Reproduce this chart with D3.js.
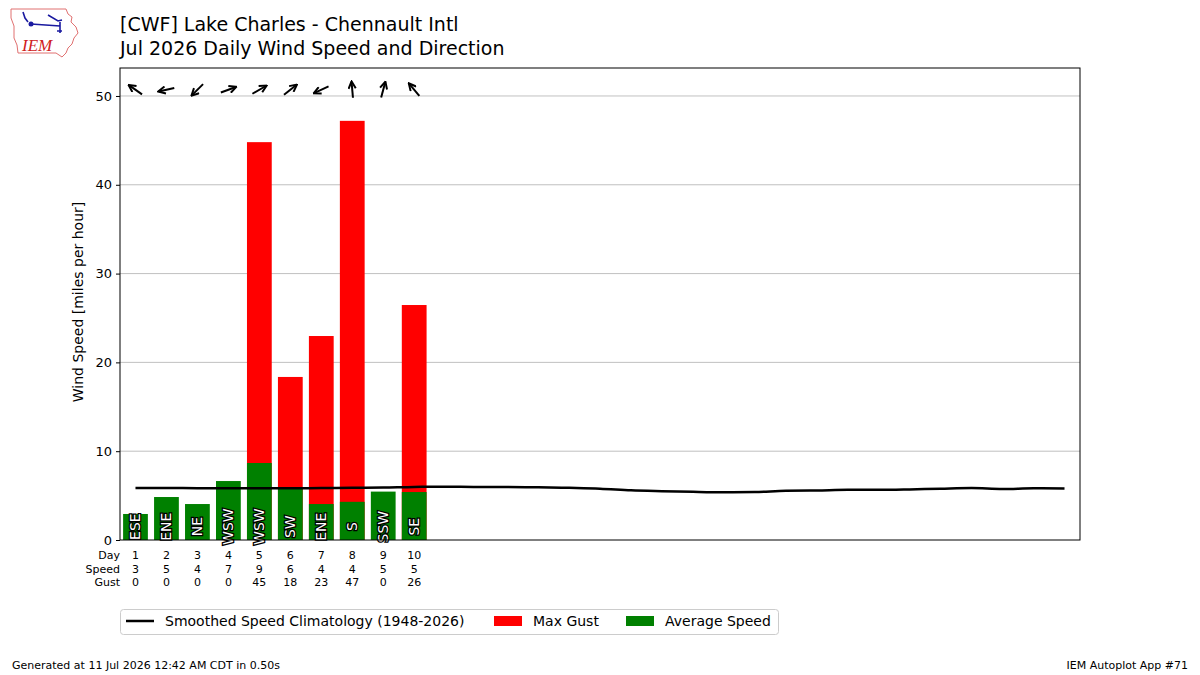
<!DOCTYPE html>
<html>
<head>
<meta charset="utf-8">
<script src="https://cdn.jsdelivr.net/npm/d3@7"></script>
<style>
  body { margin: 0; background: #fff; }
  svg text { font-family: "DejaVu Sans", sans-serif; }
</style>
</head>
<body>
<div class="canvas"></div>
<script>
// data
const days = [1, 2, 3, 4, 5, 6, 7, 8, 9, 10];
const avgSpeed = [2.93, 4.84, 4.05, 6.64, 8.67, 5.97, 4.05, 4.3, 5.45, 5.4];
const maxGust = [0, 0, 0, 0, 44.8, 18.36, 22.97, 47.2, 0, 26.46];
const dirLabels = ['ESE', 'ENE', 'NE', 'WSW', 'WSW', 'SW', 'ENE', 'S', 'SSW', 'SE'];
const dirDegrees = [125, 78, 45, 250, 240, 232, 65, 175, 195, 140];
const climoDays = d3.range(1, 32);
const climoSpeed = [5.85, 5.85, 5.84, 5.83, 5.84, 5.83, 5.85, 5.87, 5.9, 5.98, 6.0, 5.97, 5.98, 5.94, 5.87,
  5.78, 5.6, 5.5, 5.42, 5.37, 5.4, 5.55, 5.58, 5.65, 5.65, 5.7, 5.78, 5.85, 5.75, 5.82, 5.8];
const yTicks = [0, 10, 20, 30, 40, 50];

const dims = {width: 1200, height: 675};
const plot = {left: 120, right: 1080, top: 68, bottom: 540};

const svg = d3.select('.canvas')
  .append('svg')
  .attr('width', dims.width)
  .attr('height', dims.height);

const x = d3.scaleLinear().domain([0.5, 31.5]).range([plot.left, plot.right]);
const y = d3.scaleLinear().domain([0, 53.15]).range([plot.bottom, plot.top]);
const barW = x(1.4) - x(0.6);

// gridlines
svg.append('g')
  .selectAll('line')
  .data(yTicks.filter(d => d > 0))
  .enter().append('line')
  .attr('x1', plot.left).attr('x2', plot.right)
  .attr('y1', d => y(d)).attr('y2', d => y(d))
  .attr('stroke', '#b0b0b0').attr('stroke-width', 0.8);

// gust bars then average bars on top
svg.append('g')
  .selectAll('rect')
  .data(days)
  .enter().append('rect')
  .attr('x', (d) => x(d) - barW / 2)
  .attr('width', barW)
  .attr('y', (d, i) => y(maxGust[i]))
  .attr('height', (d, i) => y(0) - y(maxGust[i]))
  .attr('fill', 'red');

svg.append('g')
  .selectAll('rect')
  .data(days)
  .enter().append('rect')
  .attr('x', (d) => x(d) - barW / 2)
  .attr('width', barW)
  .attr('y', (d, i) => y(avgSpeed[i]))
  .attr('height', (d, i) => y(0) - y(avgSpeed[i]))
  .attr('fill', 'green');

// climatology line
const line = d3.line()
  .x((d, i) => x(climoDays[i]))
  .y(d => y(d))
  .curve(d3.curveMonotoneX);

svg.append('path')
  .datum(climoSpeed)
  .attr('d', line)
  .attr('fill', 'none')
  .attr('stroke', 'black')
  .attr('stroke-width', 2.5);

// direction labels inside bars
svg.append('g')
  .selectAll('text')
  .data(days)
  .enter().append('text')
  .attr('transform', d => `translate(${x(d) + 5},${y(1.5)}) rotate(-90)`)
  .attr('text-anchor', 'middle')
  .attr('font-size', 14)
  .attr('fill', 'white')
  .attr('stroke', 'black')
  .attr('stroke-width', 2.5)
  .attr('paint-order', 'stroke')
  .text((d, i) => dirLabels[i]);

// wind direction arrows (pointing where the wind blows to)
svg.append('defs').append('marker')
  .attr('id', 'head')
  .attr('viewBox', '0 0 10 10')
  .attr('refX', 8.5).attr('refY', 5)
  .attr('markerWidth', 9).attr('markerHeight', 9)
  .attr('markerUnits', 'userSpaceOnUse')
  .attr('orient', 'auto')
  .append('path')
  .attr('d', 'M1,1 L9,5 L1,9')
  .attr('fill', 'none')
  .attr('stroke', 'black')
  .attr('stroke-width', 2.2);

svg.append('g')
  .selectAll('line')
  .data(days)
  .enter().append('line')
  .each(function(d, i) {
    const toAng = (dirDegrees[i] + 180) * Math.PI / 180;
    const dx = Math.sin(toAng) * 8, dy = -Math.cos(toAng) * 8;
    const cx = x(d), cy = y(50.7);
    d3.select(this)
      .attr('x1', cx - dx).attr('y1', cy - dy)
      .attr('x2', cx + dx).attr('y2', cy + dy);
  })
  .attr('stroke', 'black')
  .attr('stroke-width', 2)
  .attr('marker-end', 'url(#head)');

// frame
svg.append('rect')
  .attr('x', plot.left).attr('y', plot.top)
  .attr('width', plot.right - plot.left).attr('height', plot.bottom - plot.top)
  .attr('fill', 'none').attr('stroke', 'black').attr('stroke-width', 1);

// y axis
const yAxis = svg.append('g')
  .attr('transform', `translate(${plot.left},0)`)
  .call(d3.axisLeft(y).tickValues(yTicks).tickSize(4).tickPadding(4));
yAxis.select('.domain').remove();
yAxis.selectAll('text').attr('font-size', 13).attr('fill', 'black').style('font-family', '"DejaVu Sans", sans-serif');

svg.append('text')
  .attr('transform', `translate(83,${(plot.top + plot.bottom) / 2 - 2}) rotate(-90)`)
  .attr('text-anchor', 'middle')
  .attr('font-size', 14)
  .text('Wind Speed [miles per hour]');

// table under the bars
const rows = [
  {name: 'Day', vals: days.map(String)},
  {name: 'Speed', vals: avgSpeed.map(v => String(Math.round(v)))},
  {name: 'Gust', vals: maxGust.map(v => String(Math.round(v)))}
];
rows.forEach((r, ri) => {
  const yy = 559 + ri * 13.5;
  svg.append('text')
    .attr('x', 120).attr('y', yy)
    .attr('text-anchor', 'end')
    .attr('font-size', 11)
    .text(r.name);
  svg.append('g')
    .selectAll('text')
    .data(days)
    .enter().append('text')
    .attr('x', d => x(d))
    .attr('y', yy)
    .attr('text-anchor', 'middle')
    .attr('font-size', 11)
    .text((d, i) => r.vals[i]);
});

// legend
const legend = svg.append('g');
legend.append('rect')
  .attr('x', 120.5).attr('y', 609.5).attr('width', 658).attr('height', 25).attr('rx', 3)
  .attr('fill', 'white').attr('stroke', '#cccccc');
legend.append('line')
  .attr('x1', 126).attr('x2', 154).attr('y1', 621).attr('y2', 621)
  .attr('stroke', 'black').attr('stroke-width', 2.5);
legend.append('text').attr('x', 165).attr('y', 626).attr('font-size', 14)
  .text('Smoothed Speed Climatology (1948-2026)');
legend.append('rect').attr('x', 494).attr('y', 616).attr('width', 28).attr('height', 10).attr('fill', 'red');
legend.append('text').attr('x', 533).attr('y', 626).attr('font-size', 14).text('Max Gust');
legend.append('rect').attr('x', 626).attr('y', 616).attr('width', 28).attr('height', 10).attr('fill', 'green');
legend.append('text').attr('x', 665).attr('y', 626).attr('font-size', 14).text('Average Speed');

// titles
svg.append('text').attr('x', 120).attr('y', 31).attr('font-size', 19)
  .text('[CWF] Lake Charles - Chennault Intl');
svg.append('text').attr('x', 120).attr('y', 55).attr('font-size', 19)
  .text('Jul 2026 Daily Wind Speed and Direction');

// footer
svg.append('text').attr('x', 12).attr('y', 669).attr('font-size', 11)
  .text('Generated at 11 Jul 2026 12:42 AM CDT in 0.50s');
svg.append('text').attr('x', 1188).attr('y', 669).attr('font-size', 11).attr('text-anchor', 'end')
  .text('IEM Autoplot App #71');

// IEM logo (rough)
const logo = svg.append('g');
logo.append('path')
  .attr('d', 'M11,9 L66,9 L68,14 L72,17 L71,22 L76,27 L78,33 L74,38 L72,44 L68,48 L66,53 L62,57 L56,53 L18,53 L17,45 L14,38 L14,26 L11,18 Z')
  .attr('fill', 'white').attr('stroke', '#e07070').attr('stroke-width', 1);
logo.append('path')
  .attr('d', 'M23,12 L25,18 L28,22 M31,24 L60,26 M48,15 L58,21 L62,20 M60,22 L60,33 M57,31 L62,31')
  .attr('fill', 'none').attr('stroke', '#1a1aa0').attr('stroke-width', 1.6);
logo.append('circle').attr('cx', 31).attr('cy', 24).attr('r', 2.5).attr('fill', '#1a1aa0');
logo.append('text').attr('x', 22).attr('y', 51).attr('font-size', 17)
  .attr('font-style', 'italic').attr('fill', '#d02020')
  .style('font-family', '"Liberation Serif", serif')
  .text('IEM');
</script>
</body>
</html>
